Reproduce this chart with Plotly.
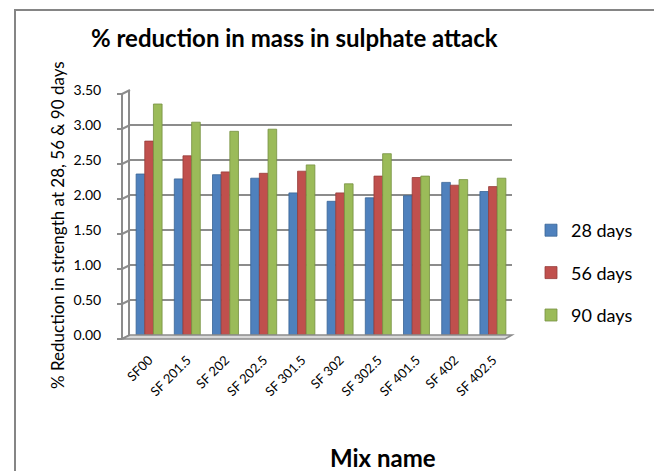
import plotly.graph_objects as go

# Mix designations and % reduction values per curing age
mixes = ["SF00", "SF 201.5", "SF 202", "SF 202.5", "SF 301.5",
         "SF 302", "SF 302.5", "SF 401.5", "SF 402", "SF 402.5"]
days_28 = [2.30, 2.23, 2.29, 2.24, 2.03, 1.91, 1.96, 1.99, 2.18, 2.05]
days_56 = [2.77, 2.56, 2.33, 2.31, 2.34, 2.03, 2.27, 2.25, 2.14, 2.12]
days_90 = [3.30, 3.04, 2.91, 2.94, 2.43, 2.16, 2.59, 2.27, 2.22, 2.24]
series_names = ["28 days", "56 days", "90 days"]
y_ticks = [0, 0.5, 1.0, 1.5, 2.0, 2.5, 3.0, 3.5]

colors = ["#4F81BD", "#C0504D", "#9BBB59"]
edges = ["#3A6496", "#963C3A", "#769041"]
FONT = "Lato, 'Open Sans', sans-serif"

W, H = 654, 471
L, R, T, B = 130, 142, 90, 136
PW, PH = W - L - R, H - T - B
YMAX = 3.5

def px_x(px):
    return (px - L) / PW

def px_y(py):
    return (H - B - py) / PH

fig = go.Figure()
for name, vals, c, e in zip(series_names, [days_28, days_56, days_90], colors, edges):
    fig.add_trace(go.Bar(
        x=mixes, y=vals, name=name, legendgroup=name,
        marker=dict(color=c, line=dict(color=e, width=0.8)),
    ))

shapes = []
grey = "#8C8C8C"
# outer frame of the chart object
shapes.append(dict(type="rect", xref="paper", yref="paper",
                   x0=px_x(15), x1=px_x(700), y0=px_y(520), y1=px_y(10),
                   line=dict(color="#858585", width=2), fillcolor="rgba(0,0,0,0)"))
# front value axis, depth connectors and small ticks
off = 4 / PH
shapes.append(dict(type="line", xref="paper", yref="paper",
                   x0=px_x(122), x1=px_x(122), y0=-off, y1=1 - off,
                   line=dict(color=grey, width=2)))
for v in y_ticks:
    yp = v / YMAX
    shapes.append(dict(type="line", xref="paper", yref="paper",
                       x0=px_x(122), x1=0, y0=yp - off, y1=yp,
                       line=dict(color=grey, width=2)))
    shapes.append(dict(type="line", xref="paper", yref="paper",
                       x0=px_x(117), x1=px_x(122), y0=yp - off, y1=yp - off,
                       line=dict(color=grey, width=2)))
# floor
shapes.append(dict(type="path", xref="paper", yref="paper",
                   path=f"M {px_x(122)},{-off} L {px_x(505)},{-off} L 1,0 L 0,0 Z",
                   line=dict(color=grey, width=1.5), fillcolor="#D9D9D9"))

fig.update_layout(
    width=W, height=H, autosize=False,
    margin=dict(l=L, r=R, t=T, b=B),
    paper_bgcolor="white", plot_bgcolor="white",
    barmode="group", bargap=0.32, bargroupgap=0.0,
    font=dict(family=FONT, color="#000000"),
    showlegend=True,
    legend=dict(x=px_x(531), xanchor="left", y=px_y(273), yanchor="middle",
                font=dict(size=18, family=FONT, color="#000"),
                tracegroupgap=16, itemwidth=30, bgcolor="rgba(0,0,0,0)"),
    shapes=shapes,
    annotations=[
        dict(text="<b>% reduction in mass in sulphate attack</b>", xref="paper", yref="paper",
             x=px_x(294), y=px_y(38), xanchor="center", yanchor="middle",
             showarrow=False, font=dict(size=24, family=FONT)),
        dict(text="% Reduction in strength at 28, 56 & 90 days", xref="paper", yref="paper",
             x=px_x(57), y=px_y(225), xanchor="center", yanchor="middle", textangle=-90,
             showarrow=False, font=dict(size=17, family=FONT)),
        dict(text="<b>Mix name</b>", xref="paper", yref="paper",
             x=px_x(383), y=px_y(457), xanchor="center", yanchor="middle",
             showarrow=False, font=dict(size=24, family=FONT)),
    ],
)
fig.update_xaxes(tickangle=-45, tickfont=dict(size=13, family=FONT), showgrid=False,
                 showline=False, ticks="", ticklabelstandoff=14)
fig.update_yaxes(range=[0, YMAX], tickvals=y_ticks, tickformat=".2f",
                 tickfont=dict(size=14, family=FONT), showgrid=True, gridcolor=grey,
                 gridwidth=2, zeroline=False, showline=True, linecolor=grey, linewidth=2,
                 ticks="", ticklabelstandoff=24)

fig.write_html("out.html")
